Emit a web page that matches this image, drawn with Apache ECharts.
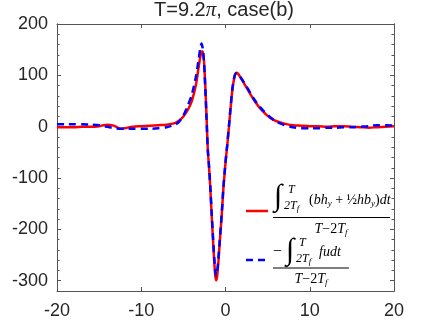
<!DOCTYPE html>
<html>
<head>
<meta charset="utf-8">
<script src="https://cdn.jsdelivr.net/npm/echarts@6/dist/echarts.min.js"></script>
<style>html,body{margin:0;padding:0;background:#fff}#c{width:436px;height:327px}</style>
</head>
<body>
<div id="c"></div>
<script>
// ---- data ----
var xs = [-20,-19,-18,-17,-16,-15,-14.5,-14,-13.5,-13,-12.5,-12,-11,-10,-9,-8,-7,-6,-5.5,-5,-4.5,-4,-3.5,-3.2,-3,-2.85,-2.7,-2.55,-2.4,-2.25,-2.1,-1.95,-1.8,-1.65,-1.5,-1.35,-1.2,-1.1,-1.0,-0.85,-0.7,-0.55,-0.4,-0.25,-0.1,0.05,0.2,0.4,0.6,0.8,1.0,1.15,1.3,1.5,1.75,2.0,2.5,3,3.5,4,4.5,5,5.5,6,7,8,9,10,11,12,13,14,15,16,17,18,19,20];
var redY = [-1,-1,-1,0,0,1,3,4,3,0,-4,-3,0,1,2,3,4,7,12,20,32,50,82,115,135,145,147,128,80,20,-45,-80,-120,-170,-215,-260,-292,-299,-292,-265,-230,-195,-160,-120,-90,-62,-38,-2,35,70,92,102,105,103,97,90,76,62,49,38,29,21,15,11,6,3,2,1,1,0,1,1,0,-1,-2,-1,0,1];
var blueY = [5,5,5,5,4,3,1,0,-2,-3,-4,-4,-4,-4,-4,-3,-1,4,10,22,40,62,98,130,152,162,152,125,75,15,-45,-78,-118,-165,-210,-252,-283,-290,-284,-258,-225,-192,-157,-118,-88,-60,-36,0,37,72,93,102,104,102,97,91,78,64,51,40,31,23,16,10,3,-1,-3,-3,-3,-2,-2,-1,-1,0,1,3,3,2];
var xTicks = [-20,-10,0,10,20];
var yTicks = [-300,-200,-100,0,100,200];
var yMinor = [];
for (var v = -320; v <= 200; v += 20) { if (yTicks.indexOf(v) < 0) yMinor.push(v); }

function pairs(x, y) { return x.map(function (xv, i) { return [xv, y[i]]; }); }

var chart = echarts.init(document.getElementById('c'));
var axisCol = '#555';
var txtCol = '#262626';
var lblFont = 'Liberation Sans';
var math = 'Liberation Serif';

function yAx(pos, values, len, labels) {
  return {
    type: 'value', position: pos, min: -320, max: 200,
    axisLine: { show: true, onZero: false, lineStyle: { color: axisCol, width: 1 } },
    axisTick: { show: true, inside: true, length: len, customValues: values, lineStyle: { color: axisCol } },
    axisLabel: labels ? { show: true, customValues: values, margin: 9, color: txtCol, fontSize: 18, fontFamily: lblFont } : { show: false },
    splitLine: { show: false }
  };
}
function xAx(pos, labels) {
  return {
    type: 'value', position: pos, min: -20, max: 20, interval: 10,
    axisLine: { show: true, onZero: false, lineStyle: { color: axisCol, width: 1 } },
    axisTick: { show: true, inside: true, length: 4, lineStyle: { color: axisCol } },
    axisLabel: labels ? { show: true, margin: 11, color: txtCol, fontSize: 18, fontFamily: lblFont } : { show: false },
    splitLine: { show: false }
  };
}

var mi = { fontFamily: math, fontStyle: 'italic', fontSize: 14, lineHeight: 17, verticalAlign: 'middle', fill: '#000' };
var rm = { fontFamily: math, fontSize: 14, lineHeight: 17, verticalAlign: 'middle', fill: '#000' };
var sub = { fontFamily: math, fontStyle: 'italic', fontSize: 9, lineHeight: 9, verticalAlign: 'bottom', fill: '#000' };
var lim = { fontFamily: math, fontStyle: 'italic', fontSize: 12, lineHeight: 14, verticalAlign: 'middle', fill: '#000' };
var limSub = { fontFamily: math, fontStyle: 'italic', fontSize: 9, lineHeight: 8, verticalAlign: 'bottom', fill: '#000' };

function txt(x, y, text, rich, align) {
  return { type: 'text', x: x, y: y, style: { text: text, textAlign: align || 'left', textVerticalAlign: 'middle', fill: '#000', font: '14px "Liberation Serif"', rich: rich } };
}
var intFont = 'italic 30px "Liberation Serif"';

chart.setOption({
  animation: false,
  backgroundColor: '#fff',
  grid: { left: 57, right: 42, top: 24, bottom: 36 },
  xAxis: [xAx('bottom', true), xAx('top', false)],
  yAxis: [yAx('left', yTicks, 4, true), yAx('left', yMinor, 2.5, false), yAx('right', yTicks, 4, false), yAx('right', yMinor, 2.5, false)],
  series: [
    { name: 'red', type: 'line', data: pairs(xs, redY), showSymbol: false, smooth: 0.25, lineStyle: { color: '#ff0000', width: 2.5 } },
    { name: 'blue', type: 'line', data: pairs(xs, blueY), showSymbol: false, smooth: 0.25, lineStyle: { color: '#0000ff', width: 2.5, type: [7, 5] } }
  ],
  graphic: [
    { type: 'text', x: 224, y: 10, style: { text: 'T=9.2{pi|π}, case(b)', textAlign: 'center', textVerticalAlign: 'middle', fill: txtCol, font: '20px "Liberation Sans"', rich: { pi: { fontFamily: math, fontStyle: 'italic', fontSize: 21, fill: txtCol } } } },
    // legend entry 1
    { type: 'line', shape: { x1: 246, y1: 211, x2: 268, y2: 211 }, style: { stroke: '#ff0000', lineWidth: 2.5 } },
    { type: 'text', x: 274, y: 197, style: { text: '∫', textVerticalAlign: 'middle', fill: '#000', font: intFont } },
    txt(288, 190, '{l|T}', { l: lim }),
    txt(284, 206, '{l|2T}{s|f}', { l: lim, s: limSub }),
    txt(309, 200, '{r|(}{i|bh}{s|y}{r| + }{r|½}{i|hb}{s|y}{r|)}{i|dt}', { r: rm, i: mi, s: sub }),
    { type: 'line', shape: { x1: 273, y1: 217.5, x2: 390, y2: 217.5 }, style: { stroke: '#000', lineWidth: 1 } },
    txt(331, 229, '{i|T}{r|−2}{i|T}{s|f}', { r: rm, i: mi, s: sub }, 'center'),
    // legend entry 2
    { type: 'line', shape: { x1: 246, y1: 260, x2: 268, y2: 260 }, style: { stroke: '#0000ff', lineWidth: 2.5, lineDash: [7, 5] } },
    txt(273, 252, '{r|−}', { r: { fontFamily: math, fontSize: 16, fill: '#000' } }),
    { type: 'text', x: 286, y: 251, style: { text: '∫', textVerticalAlign: 'middle', fill: '#000', font: intFont } },
    txt(299, 243, '{l|T}', { l: lim }),
    txt(296, 259, '{l|2T}{s|f}', { l: lim, s: limSub }),
    txt(319, 252, '{i|fudt}', { i: mi }),
    { type: 'line', shape: { x1: 273, y1: 268, x2: 349, y2: 268 }, style: { stroke: '#000', lineWidth: 1 } },
    txt(311, 279, '{i|T}{r|−2}{i|T}{s|f}', { r: rm, i: mi, s: sub }, 'center')
  ]
});
</script>
</body>
</html>
